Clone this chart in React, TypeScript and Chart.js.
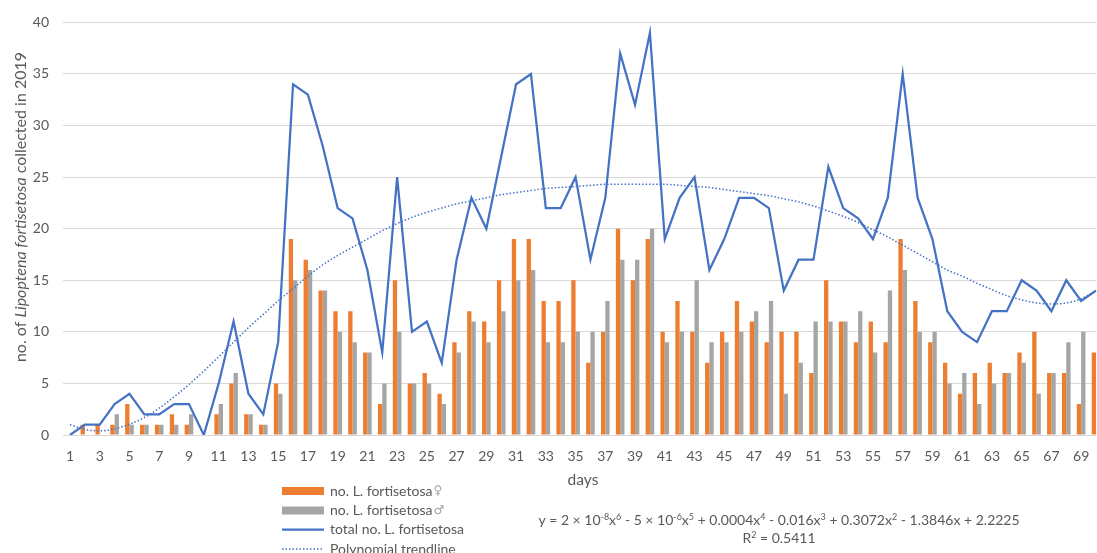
import React, { useEffect, useRef } from "react";
import { Chart, registerables } from "chart.js";

Chart.register(...registerables);

const dayLabels = Array.from({ length: 70 }, (_, i) => String(i + 1));

const femaleCounts = [
  0, 1, 1, 1, 3, 1, 1, 2, 1, 0,
  2, 5, 2, 1, 5, 19, 17, 14, 12, 12,
  8, 3, 15, 5, 6, 4, 9, 12, 11, 15,
  19, 19, 13, 13, 15, 7, 10, 20, 15, 19,
  10, 13, 10, 7, 10, 13, 11, 9, 10, 10,
  6, 15, 11, 9, 11, 9, 19, 13, 9, 7,
  4, 6, 7, 6, 8, 10, 6, 6, 3, 8,
];

const maleCounts = [
  0, 0, 0, 2, 1, 1, 1, 1, 2, 0,
  3, 6, 2, 1, 4, 15, 16, 14, 10, 9,
  8, 5, 10, 5, 5, 3, 8, 11, 9, 12,
  15, 16, 9, 9, 10, 10, 13, 17, 17, 20,
  9, 10, 15, 9, 9, 10, 12, 13, 4, 7,
  11, 11, 11, 12, 8, 14, 16, 10, 10, 5,
  6, 3, 5, 6, 7, 4, 6, 9, 10, 6,
];

const totalCounts = [
  0, 1, 1, 3, 4, 2, 2, 3, 3, 0,
  5, 11, 4, 2, 9, 34, 33, 28, 22, 21,
  16, 8, 25, 10, 11, 7, 17, 23, 20, 27,
  34, 35, 22, 22, 25, 17, 23, 37, 32, 39,
  19, 23, 25, 16, 19, 23, 23, 22, 14, 17,
  17, 26, 22, 21, 19, 23, 35, 23, 19, 12,
  10, 9, 12, 12, 15, 14, 12, 15, 13, 14,
];

// polynomial trendline, values at each day
const trendValues = [
  1.0, 0.55, 0.4, 0.6, 1.05, 1.7, 2.6, 3.7, 4.9, 6.2,
  7.6, 9.0, 10.4, 11.7, 13.0, 14.2, 15.4, 16.5, 17.4, 18.2,
  19.0, 19.8, 20.5, 21.1, 21.6, 22.0, 22.4, 22.7, 23.0, 23.3,
  23.5, 23.7, 23.9, 24.0, 24.1, 24.2, 24.3, 24.3, 24.3, 24.3,
  24.3, 24.2, 24.1, 24.0, 23.8, 23.6, 23.4, 23.2, 22.9, 22.6,
  22.2, 21.7, 21.2, 20.6, 19.9, 19.2, 18.4, 17.6, 16.8, 16.0,
  15.4, 14.7, 14.1, 13.5, 13.1, 12.8, 12.7, 12.8, 13.2, 14.0,
];

const seriesNames = [
  "no. L. fortisetosa♀",
  "no. L. fortisetosa♂",
  "total no. L. fortisetosa",
  "Polynomial trendline",
];

const yTitleParts: [string, boolean][] = [
  ["no. of ", false],
  ["Lipoptena fortisetosa", true],
  [" collected in 2019", false],
];
const xTitle = "days";

const equationParts: [string, boolean][] = [
  ["y = 2 × 10", false], ["-8", true], ["x", false], ["6", true],
  [" - 5 × 10", false], ["-6", true], ["x", false], ["5", true],
  [" + 0.0004x", false], ["4", true], [" - 0.016x", false], ["3", true],
  [" + 0.3072x", false], ["2", true], [" - 1.3846x + 2.2225", false],
];
const rSquaredParts: [string, boolean][] = [
  ["R", false], ["2", true], [" = 0.5411", false],
];

const FONT = "Lato, 'Open Sans', 'DejaVu Sans', sans-serif";
const TEXT = "#595959";
const ORANGE = "#ED7D31";
const GRAY = "#A5A5A5";
const BLUE = "#4472C4";
const GRID = "#D9D9D9";

function drawParts(ctx: CanvasRenderingContext2D, parts: [string, boolean][], cx: number, cy: number, size: number) {
  const supSize = Math.round(size * 0.65);
  let total = 0;
  for (const [t, sup] of parts) {
    ctx.font = `${sup ? supSize : size}px ${FONT}`;
    total += ctx.measureText(t).width;
  }
  let x = cx - total / 2;
  ctx.textAlign = "left";
  ctx.textBaseline = "alphabetic";
  const base = cy + size * 0.35;
  for (const [t, sup] of parts) {
    ctx.font = `${sup ? supSize : size}px ${FONT}`;
    ctx.fillText(t, x, sup ? base - size * 0.38 : base);
    x += ctx.measureText(t).width;
  }
}

const overlayPlugin = {
  id: "overlay",
  afterDraw(chart: any) {
    const ctx: CanvasRenderingContext2D = chart.ctx;
    const area = chart.chartArea;
    ctx.save();
    ctx.fillStyle = TEXT;

    // y-axis title with italic species name
    ctx.save();
    ctx.translate(21, 207);
    ctx.rotate(-Math.PI / 2);
    let w = 0;
    for (const [t, it] of yTitleParts) {
      ctx.font = `${it ? "italic " : ""}16px ${FONT}`;
      w += ctx.measureText(t).width;
    }
    let x = -w / 2;
    ctx.textBaseline = "middle";
    ctx.textAlign = "left";
    for (const [t, it] of yTitleParts) {
      ctx.font = `${it ? "italic " : ""}16px ${FONT}`;
      ctx.fillText(t, x, 0);
      x += ctx.measureText(t).width;
    }
    ctx.restore();

    // x-axis title
    ctx.font = `15.5px ${FONT}`;
    ctx.textAlign = "center";
    ctx.textBaseline = "middle";
    ctx.fillText(xTitle, (area.left + area.right) / 2, 480);

    // legend
    const rows = [491, 510.5, 529.5, 549];
    chart.data.datasets.forEach((ds: any, i: number) => {
      const cy = rows[i];
      const sx = 282;
      const sw = 42;
      if (ds.type === "bar") {
        ctx.fillStyle = ds.backgroundColor;
        ctx.fillRect(sx, cy - 4, sw, 8);
      } else {
        ctx.save();
        ctx.strokeStyle = ds.borderColor;
        ctx.lineWidth = ds.borderWidth;
        ctx.setLineDash(ds.borderDash || []);
        ctx.beginPath();
        ctx.moveTo(sx, cy);
        ctx.lineTo(sx + sw, cy);
        ctx.stroke();
        ctx.restore();
      }
      const label: string = ds.label;
      const last = label.slice(-1);
      const hasSym = last === "♀" || last === "♂";
      const main = hasSym ? label.slice(0, -1) : label;
      ctx.font = `14px ${FONT}`;
      ctx.textAlign = "left";
      ctx.textBaseline = "middle";
      ctx.fillStyle = TEXT;
      ctx.fillText(main, 330, cy);
      if (hasSym) {
        const mw = ctx.measureText(main).width;
        ctx.font = `12px 'DejaVu Sans', sans-serif`;
        ctx.fillStyle = "#A0A0A0";
        ctx.fillText(last, 330 + mw + 1, cy);
      }
    });

    // trendline equation
    ctx.fillStyle = TEXT;
    drawParts(ctx, equationParts, 779, 520, 14);
    drawParts(ctx, rSquaredParts, 779, 538, 14);
    ctx.restore();
  },
};

export default function App() {
  const canvasRef = useRef<HTMLCanvasElement | null>(null);

  useEffect(() => {
    document.body.style.margin = "0";
    const canvas = canvasRef.current;
    if (!canvas) return;
    const chart = new Chart(canvas, {
      type: "bar",
      data: {
        labels: dayLabels,
        datasets: [
          {
            type: "bar",
            label: seriesNames[0],
            data: femaleCounts,
            backgroundColor: ORANGE,
            categoryPercentage: 0.58,
            barPercentage: 1,
            order: 3,
            clip: 0,
          } as any,
          {
            type: "bar",
            label: seriesNames[1],
            data: maleCounts,
            backgroundColor: GRAY,
            categoryPercentage: 0.58,
            barPercentage: 1,
            order: 4,
            clip: 0,
          } as any,
          {
            type: "line",
            label: seriesNames[2],
            data: totalCounts,
            borderColor: BLUE,
            backgroundColor: BLUE,
            borderWidth: 2.25,
            pointRadius: 0,
            tension: 0,
            order: 2,
          } as any,
          {
            type: "line",
            label: seriesNames[3],
            data: trendValues,
            borderColor: BLUE,
            backgroundColor: BLUE,
            borderWidth: 1.5,
            borderDash: [1.5, 2],
            pointRadius: 0,
            tension: 0.4,
            cubicInterpolationMode: "monotone",
            order: 1,
          } as any,
        ],
      },
      options: {
        responsive: false,
        animation: false,
        devicePixelRatio: 1,
        layout: { padding: { left: 0, top: 20, right: 1, bottom: 0 } },
        plugins: {
          legend: { display: false },
          tooltip: { enabled: false },
          title: { display: false },
        },
        scales: {
          x: {
            offset: false,
            grid: { display: false, offset: false, drawTicks: false },
            border: { display: false },
            ticks: {
              autoSkip: false,
              maxRotation: 0,
              minRotation: 0,
              padding: 13,
              color: TEXT,
              font: { family: FONT, size: 14 },
              callback: (_v: any, i: number) => (i % 2 === 0 ? dayLabels[i] : ""),
            },
            afterFit: (scale: any) => {
              scale.height = 118;
              scale.paddingLeft = 0;
              scale.paddingRight = 0;
            },
          },
          y: {
            min: 0,
            max: 40,
            grid: { color: GRID, lineWidth: 1, drawTicks: true, tickLength: 7, tickColor: GRID },
            border: { display: false },
            ticks: {
              stepSize: 5,
              padding: 14,
              color: TEXT,
              font: { family: FONT, size: 14 },
            },
            afterFit: (scale: any) => {
              scale.width = 70;
            },
          },
        },
      },
      plugins: [overlayPlugin],
    } as any);
    return () => chart.destroy();
  }, []);

  return (
    <div style={{ position: "fixed", left: 0, top: 0, width: 1097, height: 553, background: "#fff" }}>
      <canvas ref={canvasRef} width={1097} height={553} style={{ display: "block" }} />
    </div>
  );
}
